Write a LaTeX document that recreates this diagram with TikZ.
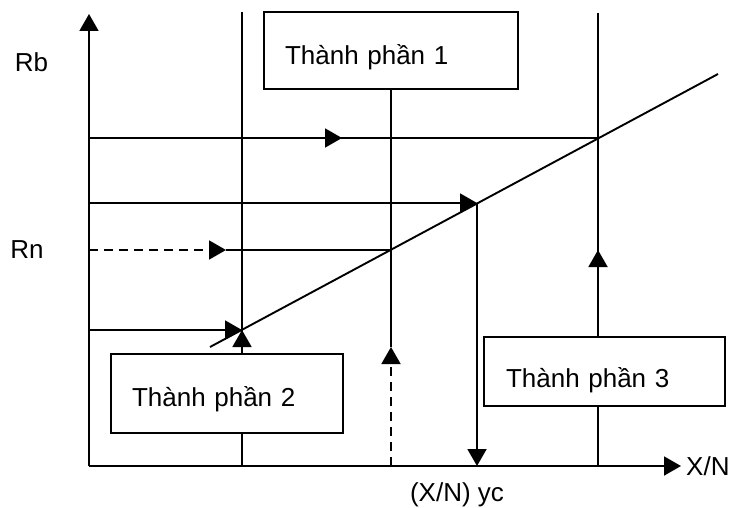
\documentclass[tikz,border=0pt]{standalone}
\usepackage{fontspec}
\setmainfont{Liberation Sans}
\usetikzlibrary{arrows.meta}
\tikzset{
  ln/.style={line width=1.9pt, line cap=butt},
  arr/.style={ln, -{Triangle[length=17pt,width=19pt]}},
  dsh/.style={dash pattern=on 9pt off 6pt},
  box/.style={draw, line width=1.9pt, fill=white, rectangle, align=left,
              inner xsep=21pt, inner ysep=0pt, font=\fontsize{26}{30}\selectfont},
  lbl/.style={inner sep=0pt, font=\fontsize{26}{30}\selectfont}
}
\newcommand{\boxtxt}[2]{\raisebox{#1}[19pt][6pt]{#2}}
\begin{document}
\begin{tikzpicture}[x=1pt,y=-1pt]
\useasboundingbox (0,0) rectangle (730,508);
% coordinates
\coordinate (O) at (89,466);
\coordinate (ytop) at (89,14);
\coordinate (xend) at (681,466);
\coordinate (v1top) at (242,12);
\coordinate (v1bot) at (242,466);
\coordinate (v3top) at (598,13);
\coordinate (v3bot) at (598,466);
\coordinate (v3mid) at (598,250);
\coordinate (d1) at (210,347);
\coordinate (d2) at (718,74);
\coordinate (P1) at (598,138);
\coordinate (P2) at (477,203);
\coordinate (P3) at (242,330);
\coordinate (P2b) at (477,466);
\coordinate (h1) at (89,138);
\coordinate (h1m) at (342,138);
\coordinate (h2) at (89,203);
\coordinate (h3) at (89,250);
\coordinate (h3m) at (226,250);
\coordinate (h3e) at (391,250);
\coordinate (h4) at (89,330);
\coordinate (v2tip) at (391,347);
\coordinate (v2bot) at (391,466);

% axes
\draw[arr] (O) -- (ytop);
\draw[arr] (O) -- (xend);

% vertical lines
\draw[ln] (v1top) -- (v1bot);
\draw[ln] (v3top) -- (v3bot);

% horizontal lines
\draw[ln] (h1) -- (P1);
\draw[arr] (h1) -- (h1m);
\draw[arr] (h2) -- (P2);
\draw[arr] (P2) -- (P2b);
\draw[arr,dsh] (h3) -- (h3m);
\draw[ln] (h3m) -- (h3e);
\draw[arr] (h4) -- (P3);

% diagonal
\draw[ln] (d1) -- (d2);

% boxes
\node[box, minimum width=254pt, minimum height=77pt, text width=212pt] (b1) at (391,50.5) {\boxtxt{-8pt}{Thành phần 1}};
\node[box, minimum width=232pt, minimum height=79pt, text width=190pt] (b2) at (227,393.5) {\boxtxt{-6pt}{Thành phần 2}};
\node[box, minimum width=241pt, minimum height=69pt, text width=197pt, inner xsep=22pt] (b3) at (604.5,371.5) {\boxtxt{-9pt}{Thành phần 3}};

% connectors from boxes
\draw[ln] (b1.south) -- (v2tip);
\draw[arr,dsh] (v2bot) -- (v2tip);
\draw[arr] (b2.north -| P3) -- (P3);
\draw[arr] (b3.north -| v3mid) -- (v3mid);

% labels
\node[lbl] (rb) at (31.5,62) {Rb};
\node[lbl] (rn) at (27,250) {Rn};
\node[lbl, anchor=west] (xn) at (686,466) {X/N};
\node[lbl] (xnyc) at (457,495) {(X/N) yc};
\end{tikzpicture}
\end{document}
